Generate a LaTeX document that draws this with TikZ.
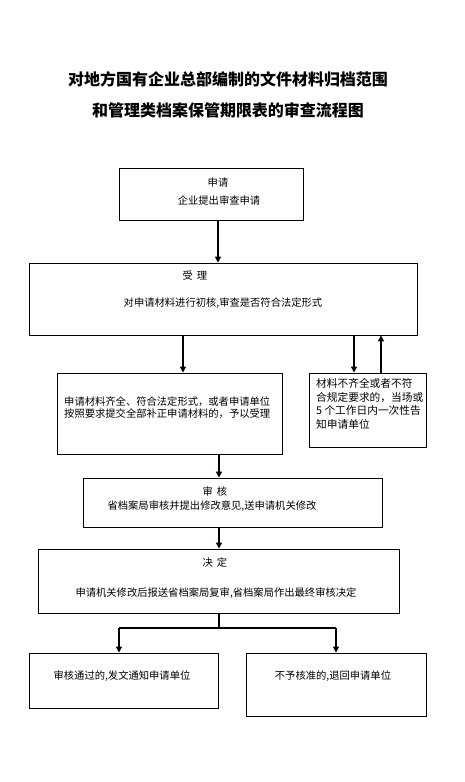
\documentclass[tikz,border=0pt]{standalone}
\usepackage{fontspec}
\setmainfont{Noto Sans CJK SC}
\usetikzlibrary{arrows.meta}
\tikzset{
  box/.style={draw=black, line width=0.9pt, minimum width=#1, inner sep=0pt},
  arr/.style={line width=1.7pt, -{Triangle[length=6pt,width=6pt]}},
  conn/.style={line width=1.2pt},
  txt/.style={font=\fontsize{10.3}{11}\selectfont, inner sep=0pt, anchor=center},
  ltxt/.style={font=\fontsize{10.3}{11}\selectfont, inner sep=0pt, anchor=west, align=left},
  ttl/.style={font=\fontsize{16}{18}\selectfont\bfseries, inner sep=0pt}
}
\begin{document}
\begin{tikzpicture}[x=1pt,y=-1pt]
\useasboundingbox[fill=white] (0,0) rectangle (465,782);
% title
\node[ttl] (t1) at (228,79) {对地方国有企业总部编制的文件材料归档范围};
\node[ttl] (t2) at (228,110) {和管理类档案保管期限表的审查流程图};
% boxes
\node[box=184pt, minimum height=52pt] (b1) at (211,194) {};
\node[box=388pt, minimum height=72pt] (b2) at (223,299) {};
\node[box=225pt, minimum height=81pt] (b3) at (169.5,413.5) {};
\node[box=117pt, minimum height=74pt] (b4) at (367.5,410) {};
\node[box=299pt, minimum height=49pt] (b5) at (232.5,502.5) {};
\node[box=361pt, minimum height=64pt] (b6) at (218.5,581) {};
\node[box=189pt, minimum height=55pt] (b7) at (123.5,680.5) {};
\node[box=180pt, minimum height=63pt] (b8) at (336,684.5) {};
% texts
\node[txt] (l1a) at (218,183) {申请};
\node[txt] (l1b) at (219,201) {企业提出审查申请};
\node[txt] (l2a) at (195,276) {受\hspace{4pt}理};
\node[txt] (l2b) at (223,303) {对申请材料进行初核,审查是否符合法定形式};
\node[ltxt] (l3a) at (64,402) {申请材料齐全、符合法定形式，或者申请单位};
\node[ltxt] (l3b) at (64,413.5) {按照要求提交全部补正申请材料的，予以受理};
\node[ltxt, font=\fontsize{10.7}{13.6}\selectfont] (l4) at (316,404) {材料不齐全或者不符\\合规定要求的，当场或\\5 个工作日内一次性告\\知申请单位};
\node[txt] (l5a) at (215,492) {审\hspace{4pt}核};
\node[txt] (l5b) at (212,506) {省档案局审核并提出修改意见,送申请机关修改};
\node[txt] (l6a) at (215,563) {决\hspace{4pt}定};
\node[txt] (l6b) at (216,593) {申请机关修改后报送省档案局复审,省档案局作出最终审核决定};
\node[txt] (l7) at (122,676) {审核通过的,发文通知申请单位};
\node[txt] (l8) at (333,676) {不予核准的,退回申请单位};
% connector x positions
\coordinate (x1) at (218,0);
\coordinate (x2) at (183,0);
\coordinate (x3) at (354,0);
\coordinate (x4) at (381,0);
\coordinate (x5) at (219,0);
\coordinate (x7) at (119,0);
\coordinate (x8) at (336,0);
\coordinate (split) at (219,628);
% arrows
\draw[arr] (b1.south -| x1) -- (b2.north -| x1);
\draw[arr] (b2.south -| x2) -- (b3.north -| x2);
\draw[arr] (b2.south -| x3) -- (b4.north -| x3);
\draw[arr] (b4.north -| x4) -- (b2.south -| x4);
\draw[arr] (b3.south -| x5) -- (b5.north -| x5);
\draw[arr] (b5.south -| x5) -- (b6.north -| x5);
\draw[conn] (b6.south -| x5) -- (split);
\draw[conn] (split -| x7) -- (split -| x8);
\draw[arr] (split -| x7) -- (b7.north -| x7);
\draw[arr] (split -| x8) -- (b8.north -| x8);
\end{tikzpicture}
\end{document}
